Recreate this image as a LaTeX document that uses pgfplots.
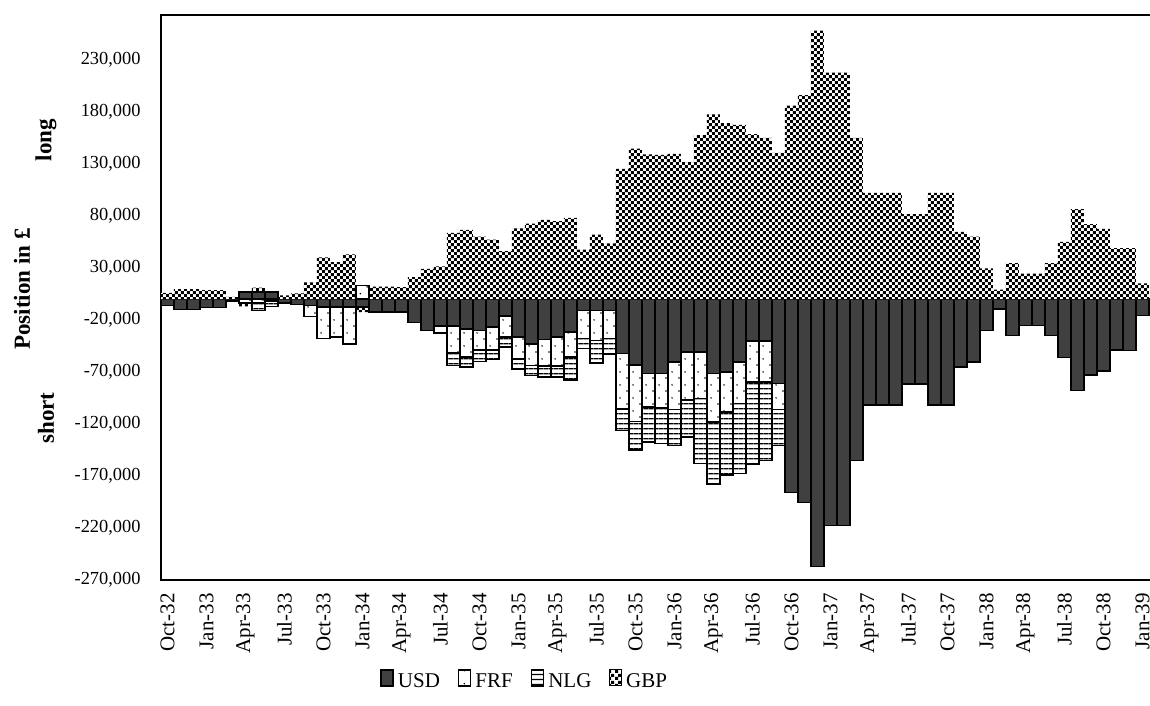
\documentclass[border=0pt]{standalone}
\usepackage{pgfplots}
\pgfplotsset{compat=1.18}
\usepackage{pgfplotstable}
\usepackage{fontspec}
\setmainfont{Liberation Serif}
\usetikzlibrary{patterns}
\definecolor{usdgray}{HTML}{404040}

\pgfdeclarepatternformonly{gbpchecker}{\pgfpointorigin}{\pgfqpoint{3.2pt}{3.2pt}}{\pgfqpoint{3.2pt}{3.2pt}}{%
  \pgfpathrectangle{\pgfpointorigin}{\pgfqpoint{1.6pt}{1.6pt}}%
  \pgfpathrectangle{\pgfqpoint{1.6pt}{1.6pt}}{\pgfqpoint{1.6pt}{1.6pt}}%
  \pgfusepath{fill}}
\pgfdeclarepatternformonly{nlglines}{\pgfpointorigin}{\pgfqpoint{2.4pt}{2.4pt}}{\pgfqpoint{2.4pt}{2.4pt}}{%
  \pgfsetlinewidth{0.6pt}%
  \pgfpathmoveto{\pgfqpoint{0pt}{1.2pt}}\pgfpathlineto{\pgfqpoint{2.4pt}{1.2pt}}\pgfusepath{stroke}}
\pgfdeclarepatternformonly{frfdots}{\pgfpointorigin}{\pgfqpoint{6.5pt}{6.5pt}}{\pgfqpoint{6.5pt}{6.5pt}}{%
  \pgfpathcircle{\pgfqpoint{1.6pt}{1.6pt}}{0.45pt}%
  \pgfpathcircle{\pgfqpoint{4.85pt}{4.85pt}}{0.45pt}%
  \pgfusepath{fill}}

\pgfplotstableread{
m usd frf nlg gbp
0 -6000 0 0 6000
1 -10000 0 0 9500
2 -10000 0 0 9500
3 -8000 0 0 8500
4 -8000 0 0 8500
5 -2000 0 0 2000
6 7000 -4000 0 -3000
7 7000 -4000 -7000 4000
8 7000 -2000 -5000 0
9 -4000 0 0 3500
10 -5000 0 0 5500
11 -6000 -11000 0 16000
12 -7500 -30500 0 40000
13 -7500 -29000 0 35500
14 -7500 -35500 0 43000
15 -7500 13000 0 -5000
16 -12500 0 0 12000
17 -12500 0 0 12000
18 -12500 0 0 11500
19 -22500 0 0 21000
20 -30000 0 0 29000
21 -26000 -6500 0 31500
22 -26000 -26000 -12000 63500
23 -29000 -26500 -10000 66500
24 -30000 -19000 -11000 60000
25 -27000 -22000 -9000 57000
26 -16500 -20000 -9500 46000
27 -36500 -21000 -9500 68000
28 -43000 -21000 -9500 72500
29 -39000 -25500 -10500 76000
30 -36500 -28000 -10500 75000
31 -31500 -24000 -22500 78000
32 -11000 -27000 -9500 47500
33 -11000 -29000 -21500 62000
34 -11000 -27000 -15000 53500
35 -52500 -53000 -21000 125000
36 -63500 -54000 -27500 144500
37 -71500 -32000 -34000 139000
38 -71500 -33000 -34500 138500
39 -60500 -45500 -34500 139500
40 -51000 -46000 -35500 131500
41 -51000 -44500 -62500 157500
42 -71500 -46500 -59500 177500
43 -70000 -38500 -60500 169000
44 -60500 -40000 -67000 167500
45 -40500 -39000 -79000 158500
46 -40500 -39000 -75500 155000
47 -81000 -25000 -34500 140500
48 -186000 0 0 186000
49 -195500 0 0 196000
50 -257000 0 0 258000
51 -217500 0 0 217500
52 -217500 0 0 217500
53 -155000 0 0 155000
54 -102000 0 0 102000
55 -102000 0 0 102000
56 -102000 0 0 102000
57 -81500 0 0 81500
58 -81500 0 0 81500
59 -102000 0 0 102000
60 -102000 0 0 102000
61 -65500 0 0 64500
62 -60500 0 0 60000
63 -30000 0 0 29500
64 -9500 0 0 9000
65 -35000 0 0 34500
66 -25500 0 0 24500
67 -25500 0 0 24500
68 -35000 0 0 34500
69 -56000 0 0 55000
70 -88000 0 0 86500
71 -73000 0 0 72000
72 -69000 0 0 67500
73 -49000 0 0 49000
74 -49500 0 0 49000
75 -16000 0 0 15000
}\positions

\tikzset{
  usdbar/.style={fill=usdgray, draw=black, line width=0.75pt},
  frfbar/.style={fill=white, draw=black, line width=0.75pt, postaction={pattern=frfdots}},
  nlgbar/.style={fill=white, draw=black, line width=0.75pt, postaction={pattern=nlglines}},
  gbpbar/.style={fill=white, draw=none, postaction={pattern=gbpchecker}},
  sqleg/.style={legend image code/.code={\draw[##1] (0pt,-3.2pt) rectangle (6.4pt,3.2pt);}},
  gbpleg/.style={legend image code/.code={\draw[fill=white, draw=none, postaction={pattern=gbpchecker}] (0pt,-3.2pt) rectangle (6.4pt,3.2pt);}},
}
\pgfplotsset{
  common/.style={
    at={(0pt,0pt)}, anchor=south west, scale only axis,
    width=495.6pt, height=282.5pt,
    xmin=-0.5, xmax=75.75, ymin=-270000, ymax=273000,
    ybar stacked, bar width=1,
  },
}

\begin{document}
\begin{tikzpicture}
\begin{axis}[common,
  axis line style={line width=1pt},
  xtick={0,3,...,75},
  xticklabels={Oct-32,Jan-33,Apr-33,Jul-33,Oct-33,Jan-34,Apr-34,Jul-34,Oct-34,Jan-35,Apr-35,Jul-35,Oct-35,Jan-36,Apr-36,Jul-36,Oct-36,Jan-37,Apr-37,Jul-37,Oct-37,Jan-38,Apr-38,Jul-38,Oct-38,Jan-39},
  xticklabel style={rotate=90, anchor=east, inner sep=0pt, font=\fontsize{10.5}{12}\selectfont},
  xticklabel shift=6.5pt,
  ytick={-270000,-220000,-170000,-120000,-70000,-20000,30000,80000,130000,180000,230000},
  yticklabels={{-270,000},{-220,000},{-170,000},{-120,000},{-70,000},{-20,000},{30,000},{80,000},{130,000},{180,000},{230,000}},
  yticklabel style={anchor=east, inner sep=0pt, font=\fontsize{9.2}{11}\selectfont},
  yticklabel shift=10pt,
  major tick length=0pt,
  legend columns=4,
  legend style={draw=none, fill=none, at={(0.368,-0.18)}, anchor=center,
    font=\fontsize{10.5}{12}\selectfont,
    /tikz/every even column/.append style={column sep=7pt}},
]
\addplot[usdbar, sqleg] table[x=m, y expr={min(\thisrow{usd},0)}] {\positions};
\addlegendentry{USD}
\addplot[frfbar, sqleg] table[x=m, y expr={min(\thisrow{frf},0)}] {\positions};
\addlegendentry{FRF}
\addplot[nlgbar, sqleg] table[x=m, y expr={min(\thisrow{nlg},0)}] {\positions};
\addlegendentry{NLG}
\addplot[gbpbar, gbpleg] table[x=m, y expr={min(\thisrow{gbp},0)}] {\positions};
\addlegendentry{GBP}
\end{axis}
\begin{axis}[common, hide axis]
\addplot[usdbar] table[x=m, y expr={max(\thisrow{usd},0)}] {\positions};
\addplot[frfbar] table[x=m, y expr={max(\thisrow{frf},0)}] {\positions};
\addplot[nlgbar] table[x=m, y expr={max(\thisrow{nlg},0)}] {\positions};
\addplot[gbpbar] table[x=m, y expr={max(\thisrow{gbp},0)}] {\positions};
\end{axis}
\node[rotate=90, font=\bfseries\fontsize{11.5}{13}\selectfont] at (-69.5pt,145.5pt) {Position in £};
\node[rotate=90, font=\bfseries\fontsize{11.5}{13}\selectfont] at (-57.5pt,220pt) {long};
\node[rotate=90, font=\bfseries\fontsize{11.5}{13}\selectfont] at (-57.5pt,81pt) {short};
\pgfresetboundingbox
\path[use as bounding box] (-80.5pt,-63pt) rectangle (494.5pt,290pt);
\end{tikzpicture}
\end{document}
